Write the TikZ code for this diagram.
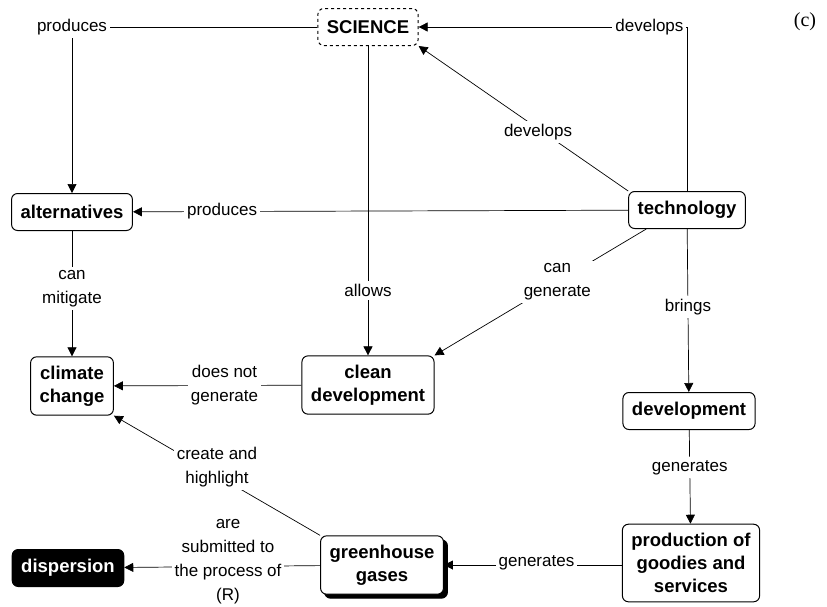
\documentclass[tikz,border=0pt]{standalone}
\usepackage{fontspec}
\setmainfont{Liberation Sans}
\newfontfamily\captionfont{Liberation Serif}
\usetikzlibrary{arrows.meta, shadows}

\tikzset{
  concept/.style={draw, rounded corners=6pt, line width=1pt, align=center,
    font=\bfseries\fontsize{18.5}{23}\selectfont, inner xsep=9pt, inner ysep=9pt,
    minimum height=37pt, fill=white},
  linkword/.style={fill=white, align=center, inner sep=3pt,
    font=\fontsize{17}{24}\selectfont},
  conn/.style={-{Triangle[length=9pt,width=9pt]}, line width=0.7pt},
}

\begin{document}
\begin{tikzpicture}[x=1pt, y=-1pt]
  \useasboundingbox (0,0) rectangle (827,606);

  % concepts
  \node[concept, dashed] (sci) at (368,27) {SCIENCE};
  \node[concept] (tech) at (687,210) {technology};
  \node[concept] (alt) at (72,212) {alternatives};
  \node[concept] (climate) at (72,386) {climate\\change};
  \node[concept] (clean) at (368,385) {clean\\development};
  \node[concept] (devt) at (689,411) {development};
  \node[concept] (prod) at (691,563) {production of\\goodies and\\services};
  \node[concept, copy shadow={shadow xshift=4pt, shadow yshift=-4pt, fill=black}]
    (ghg) at (382,565) {greenhouse\\gases};
  \node[concept, fill=black, text=white] (disp) at (68,568) {dispersion};
  \node[font=\captionfont\fontsize{20}{22}\selectfont] (tag) at (805,22) {(c)};

  % links
  \draw[conn] (sci.west) -| node[linkword, pos=0.5] (l1) {produces} (alt.north);
  \draw[conn] (tech.north) |- node[linkword, pos=0.57] (l2) {develops} (sci.east);
  \draw[conn] (tech.north west) -- node[linkword, pos=0.43, yshift=-3pt] (l3) {develops} (sci.south east);
  \draw[conn] (tech) -- node[linkword, pos=0.82] (l4) {produces} (alt);
  \draw[conn] (sci) -- node[linkword, pos=0.79] (l5) {allows} (clean);
  \draw[conn] (tech.-155) -- node[linkword, pos=0.42] (l6) {can\\generate} (clean.north east);
  \draw[conn] (tech) -- node[linkword, pos=0.48] (l7) {brings} (devt);
  \draw[conn] (alt) -- node[linkword, pos=0.46] (l8) {can\\mitigate} (climate);
  \draw[conn] (clean) -- node[linkword, pos=0.41] (l9) {does not\\generate} (climate);
  \draw[conn] (devt) -- node[linkword, pos=0.4] (l10) {generates} (prod);
  \draw[conn] (prod.west |- ghg) -- node[linkword, pos=0.48, yshift=2pt] (l11) {generates} (ghg);
  \draw[conn] (ghg.north west) -- node[linkword, pos=0.5, yshift=8pt] (l12) {create and\\highlight} (climate.south east);
  \draw[conn] (ghg) -- node[linkword, pos=0.47, yshift=5pt] (l13) {are\\submitted to\\the process of\\(R)} (disp);
\end{tikzpicture}
\end{document}
